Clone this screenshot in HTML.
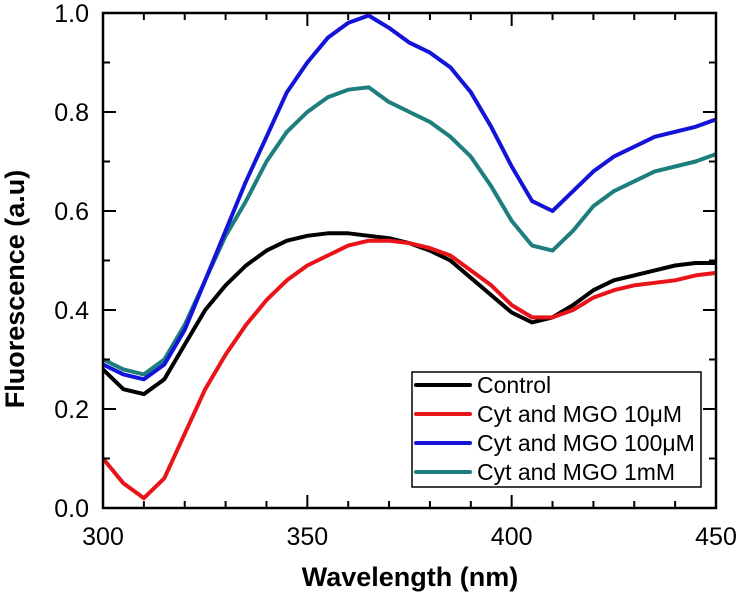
<!DOCTYPE html>
<html><head><meta charset="utf-8"><style>
body{margin:0;background:#fff;}
svg{display:block;font-family:"Liberation Sans",Arial,sans-serif;}
</style></head><body>
<svg id="chart" width="740" height="596"></svg>
<script>
const wavelengths=[300,305,310,315,320,325,330,335,340,345,350,355,360,365,370,375,380,385,390,395,400,405,410,415,420,425,430,435,440,445,450];
const controlValues=[0.28,0.24,0.23,0.26,0.33,0.40,0.45,0.49,0.52,0.54,0.55,0.555,0.555,0.55,0.545,0.535,0.52,0.50,0.465,0.43,0.395,0.375,0.385,0.41,0.44,0.46,0.47,0.48,0.49,0.495,0.495];
const mgo10Values=[0.10,0.05,0.02,0.06,0.15,0.24,0.31,0.37,0.42,0.46,0.49,0.51,0.53,0.54,0.54,0.535,0.525,0.51,0.48,0.45,0.41,0.385,0.385,0.40,0.425,0.44,0.45,0.455,0.46,0.47,0.475];
const mgo100Values=[0.29,0.27,0.26,0.29,0.36,0.46,0.56,0.66,0.75,0.84,0.90,0.95,0.98,0.995,0.97,0.94,0.92,0.89,0.84,0.77,0.69,0.62,0.60,0.64,0.68,0.71,0.73,0.75,0.76,0.77,0.785];
const mgo1mValues=[0.30,0.28,0.27,0.30,0.37,0.46,0.55,0.62,0.70,0.76,0.80,0.83,0.845,0.85,0.82,0.80,0.78,0.75,0.71,0.65,0.58,0.53,0.52,0.56,0.61,0.64,0.66,0.68,0.69,0.70,0.715];
const xTickLabels=["300","350","400","450"];
const yTickLabels=["0.0","0.2","0.4","0.6","0.8","1.0"];
const seriesNames=["Control","Cyt and MGO 10\u03bcM","Cyt and MGO 100\u03bcM","Cyt and MGO 1mM"];
const seriesColors=["#000000","#e8141a","#1414d8","#1e7d7d"];

const L=103,R=716,T=13,B=508;
const sx=v=>L+(v-300)/150*(R-L);
const sy=v=>B-v*(B-T);
const svg=document.getElementById('chart');
const NS="http://www.w3.org/2000/svg";
function mk(tag,attrs,parent){const e=document.createElementNS(NS,tag);for(const k in attrs)e.setAttribute(k,attrs[k]);(parent||svg).appendChild(e);return e;}

const data=[controlValues,mgo10Values,mgo100Values,mgo1mValues];
const order=[3,2,0,1];
order.forEach(i=>{
  const d=data[i].map((v,j)=>(j?'L':'M')+sx(wavelengths[j]).toFixed(1)+','+sy(v).toFixed(1)).join(' ');
  const p=mk('path',{d:d,fill:'none',stroke:seriesColors[i],'stroke-width':4,'stroke-linejoin':'round'});
  
  
});

const f=mk('rect',{x:L,y:T,width:R-L,height:B-T,fill:'none',stroke:'#000','stroke-width':2.5});


for(let v=300;v<=450;v+=10){
  const major=(v%50===0),len=major?13:7,x=sx(v);
  mk('line',{x1:x,y1:B,x2:x,y2:B-len,stroke:'#000','stroke-width':2});
  mk('line',{x1:x,y1:T,x2:x,y2:T+len,stroke:'#000','stroke-width':2});
}
xTickLabels.forEach(s=>{
  const t=mk('text',{x:sx(+s),y:545,'text-anchor':'middle','font-size':25});
  t.textContent=s;
  
  
});
for(let k=0;k<=10;k++){
  const v=k/10,major=(k%2===0),len=major?13:7,y=sy(v);
  mk('line',{x1:L,y1:y,x2:L+len,y2:y,stroke:'#000','stroke-width':2});
  mk('line',{x1:R,y1:y,x2:R-len,y2:y,stroke:'#000','stroke-width':2});
}
yTickLabels.forEach(s=>{
  const t=mk('text',{x:89,y:sy(+s)+9,'text-anchor':'end','font-size':25});
  t.textContent=s;
  
  
});
const xt=mk('text',{x:410,y:586,'text-anchor':'middle','font-size':27,'font-weight':'bold'});
xt.textContent='Wavelength (nm)';


const yt=mk('text',{x:0,y:0,'text-anchor':'middle','font-size':27,'font-weight':'bold',transform:'translate(24,289) rotate(-90)'});
yt.textContent='Fluorescence (a.u)';



const lg=mk('g',{});


mk('rect',{x:412,y:372,width:289,height:115,fill:'#fff',stroke:'#000','stroke-width':1.5},lg);
seriesNames.forEach((n,i)=>{
  const y=385+i*29;
  const g=mk('g',{},lg);
  
  
  mk('line',{x1:416,y1:y,x2:470,y2:y,stroke:seriesColors[i],'stroke-width':4,'stroke-linecap':'round'},g);
  const t=mk('text',{x:477,y:y+8,'font-size':23},g);
  t.textContent=n;
});
</script>
</body></html>
